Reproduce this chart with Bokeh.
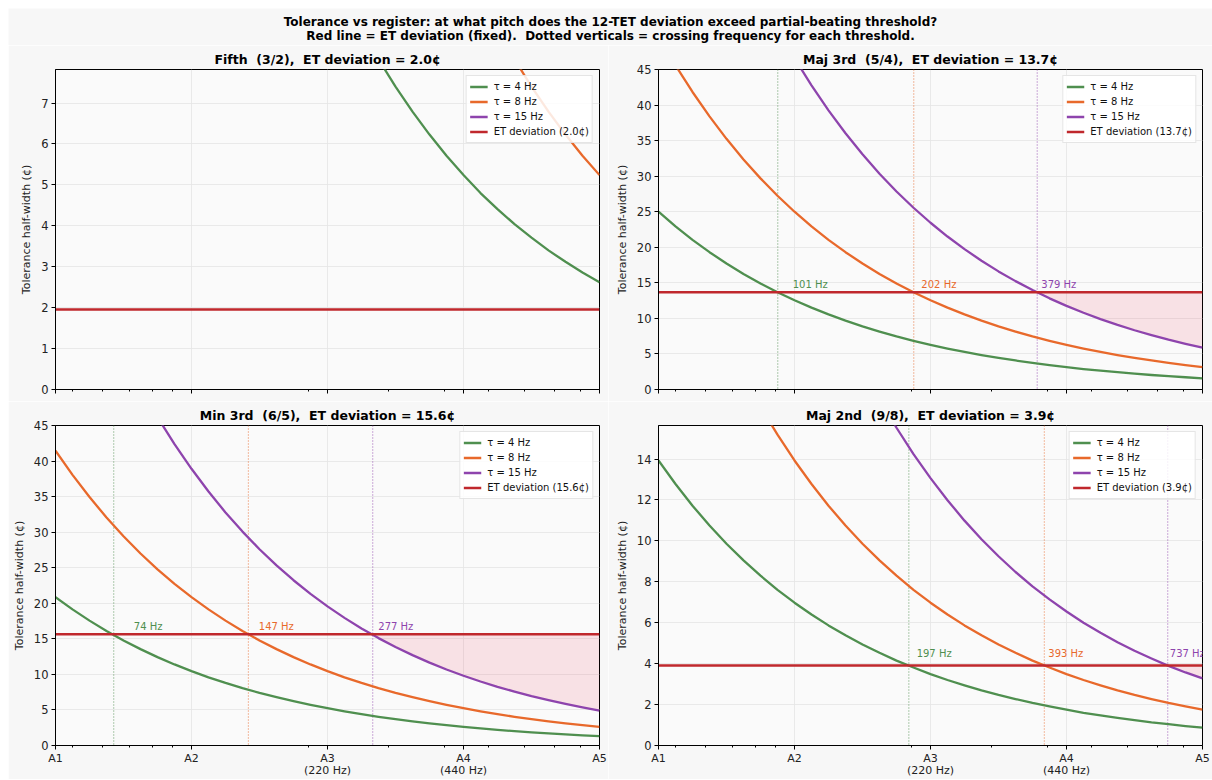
from bokeh.plotting import figure
from bokeh.models import (FixedTicker, SingleIntervalTicker, Legend, LegendItem, Span,
                          ColumnDataSource, Range1d)
from bokeh.layouts import column, row
from bokeh.embed import file_html
from bokeh.resources import INLINE
from bokeh.core.properties import value

FONT = "DejaVu Sans"

# ---------------- data ----------------
freqs = [55.00, 59.98, 65.41, 71.33, 77.78, 84.82, 92.50, 100.87, 110.00, 119.96, 130.81,
         142.65, 155.56, 169.64, 185.00, 201.74, 220.00, 239.91, 261.63, 285.30, 311.13,
         339.29, 369.99, 403.48, 440.00, 479.82, 523.25, 570.61, 622.25, 678.58, 739.99,
         806.96, 880.00]

tau_labels = ["τ = 4 Hz", "τ = 8 Hz", "τ = 15 Hz"]

interval_names = ["Fifth", "Maj 3rd", "Min 3rd", "Maj 2nd"]
interval_ratios = ["3/2", "5/4", "6/5", "9/8"]
et_dev = [1.955, 13.686, 15.641, 3.910]
y_tick_step = [1, 5, 5, 2]

fifth_t4 = [41.47, 38.06, 34.94, 32.06, 29.43, 27.00, 24.78, 22.73, 20.86, 19.14, 17.56, 16.11,
            14.78, 13.55, 12.43, 11.40, 10.46, 9.59, 8.80, 8.07, 7.40, 6.79, 6.23, 5.71, 5.24,
            4.80, 4.41, 4.04, 3.71, 3.40, 3.12, 2.86, 2.62]
fifth_t8 = [81.97, 75.31, 69.18, 63.55, 58.36, 53.59, 49.20, 45.17, 41.47, 38.06, 34.94, 32.06,
            29.43, 27.00, 24.78, 22.73, 20.86, 19.14, 17.56, 16.11, 14.78, 13.55, 12.43, 11.40,
            10.46, 9.59, 8.80, 8.07, 7.40, 6.79, 6.23, 5.71, 5.24]
fifth_t15 = [150.64, 138.63, 127.53, 117.30, 107.86, 99.16, 91.14, 83.76, 76.96, 70.70, 64.94,
             59.64, 54.77, 50.29, 46.17, 42.38, 38.91, 35.71, 32.77, 30.08, 27.60, 25.33, 23.24,
             21.32, 19.56, 17.95, 16.46, 15.10, 13.86, 12.71, 11.66, 10.69, 9.81]

maj3_t4 = [25.00, 22.94, 21.05, 19.31, 17.72, 16.25, 14.91, 13.68, 12.55, 11.51, 10.56, 9.68,
           8.88, 8.15, 7.47, 6.85, 6.28, 5.76, 5.29, 4.85, 4.45, 4.08, 3.74, 3.43, 3.14, 2.88,
           2.64, 2.43, 2.22, 2.04, 1.87, 1.72, 1.57]
maj3_t8 = [49.64, 45.58, 41.84, 38.41, 35.25, 32.35, 29.69, 27.25, 25.00, 22.94, 21.05, 19.31,
           17.72, 16.25, 14.91, 13.68, 12.55, 11.51, 10.56, 9.68, 8.88, 8.15, 7.47, 6.85, 6.28,
           5.76, 5.29, 4.85, 4.45, 4.08, 3.74, 3.43, 3.14]
maj3_t15 = [91.95, 84.50, 77.64, 71.33, 65.52, 60.17, 55.26, 50.74, 46.58, 42.77, 39.26, 36.03,
            33.07, 30.35, 27.85, 25.56, 23.45, 21.51, 19.74, 18.11, 16.61, 15.24, 13.98, 12.82,
            11.76, 10.79, 9.90, 9.08, 8.33, 7.64, 7.00, 6.42, 5.89]

min3_t4 = [20.86, 19.14, 17.56, 16.11, 14.78, 13.55, 12.43, 11.40, 10.46, 9.59, 8.80, 8.07,
           7.40, 6.79, 6.23, 5.71, 5.24, 4.80, 4.41, 4.04, 3.71, 3.40, 3.12, 2.86, 2.62, 2.40,
           2.20, 2.02, 1.85, 1.70, 1.56, 1.43, 1.31]
min3_t8 = [41.47, 38.06, 34.94, 32.06, 29.43, 27.00, 24.78, 22.73, 20.86, 19.14, 17.56, 16.11,
           14.78, 13.55, 12.43, 11.40, 10.46, 9.59, 8.80, 8.07, 7.40, 6.79, 6.23, 5.71, 5.24,
           4.80, 4.41, 4.04, 3.71, 3.40, 3.12, 2.86, 2.62]
min3_t15 = [76.96, 70.70, 64.94, 59.64, 54.77, 50.29, 46.17, 42.38, 38.91, 35.71, 32.77, 30.08,
            27.60, 25.33, 23.24, 21.32, 19.56, 17.95, 16.46, 15.10, 13.86, 12.71, 11.66, 10.69,
            9.81, 9.00, 8.25, 7.57, 6.94, 6.37, 5.84, 5.36, 4.91]

maj2_t4 = [13.93, 12.78, 11.72, 10.75, 9.86, 9.05, 8.30, 7.61, 6.98, 6.40, 5.87, 5.39, 4.94,
           4.53, 4.15, 3.81, 3.49, 3.20, 2.94, 2.69, 2.47, 2.27, 2.08, 1.91, 1.75, 1.60, 1.47,
           1.35, 1.24, 1.13, 1.04, 0.95, 0.87]
maj2_t8 = [27.76, 25.47, 23.37, 21.44, 19.67, 18.05, 16.56, 15.19, 13.93, 12.78, 11.72, 10.75,
           9.86, 9.05, 8.30, 7.61, 6.98, 6.40, 5.87, 5.39, 4.94, 4.53, 4.15, 3.81, 3.49, 3.20,
           2.94, 2.69, 2.47, 2.27, 2.08, 1.91, 1.75]
maj2_t15 = [51.68, 47.45, 43.56, 39.99, 36.70, 33.69, 30.92, 28.37, 26.03, 23.89, 21.92, 20.11,
            18.45, 16.93, 15.53, 14.24, 13.07, 11.99, 10.99, 10.08, 9.25, 8.48, 7.78, 7.14, 6.55,
            6.00, 5.51, 5.05, 4.63, 4.25, 3.89, 3.57, 3.28]

# crossing frequencies (Hz) for tau = 4, 8, 15
fifth_cross = []
maj3_cross = [101, 202, 379]
min3_cross = [74, 147, 277]
maj2_cross = [197, 393, 737]

x_tick_freqs = [55, 110, 220, 440, 880]
x_tick_labels = ["A1", "A2", "A3\n(220 Hz)", "A4\n(440 Hz)", "A5"]
x_minor_freqs = [60, 70, 80, 90, 100, 200, 300, 400, 500, 600, 700, 800]

title_lines = [
    "Tolerance vs register: at what pitch does the 12-TET deviation exceed partial-beating threshold?",
    "Red line = ET deviation (fixed). \u00a0Dotted verticals = crossing frequency for each threshold.",
]

# ---------------- style ----------------
COLORS = ["#4f8f4f", "#e8692b", "#8e44ad"]
RED = "#c0282d"
FILL = "#f03050"
OUTER_BG = "#f7f7f7"
INNER_BG = "#fafafa"


def panel(idx, curves, cross, width, height, mb, show_xlabels):
    et = et_dev[idx]
    ylim = min(45.0, 4 * et)
    p = figure(width=width, height=height, x_axis_type="log",
               x_range=Range1d(55, 880), y_range=Range1d(0, ylim),
               output_backend="svg", toolbar_location=None,
               min_border_left=mb[0], min_border_right=mb[1],
               min_border_top=mb[2], min_border_bottom=mb[3])
    p.border_fill_color = OUTER_BG
    p.background_fill_color = INNER_BG
    p.outline_line_color = "black"
    p.outline_line_width = 1

    p.title.text = (f"{interval_names[idx]} \u00a0({interval_ratios[idx]}), "
                    f"\u00a0ET deviation = {et:.1f}¢")
    p.title.text_font = FONT
    p.title.text_font_size = "12.5px"
    p.title.text_font_style = "bold"
    p.title.align = "center"
    p.title.standoff = 5.5
    p.title.text_color = "black"

    # axes
    p.xaxis.ticker = FixedTicker(ticks=x_tick_freqs, minor_ticks=x_minor_freqs)
    p.xgrid.ticker = FixedTicker(ticks=x_tick_freqs)
    if show_xlabels:
        p.xaxis.major_label_overrides = {f: l for f, l in zip(x_tick_freqs, x_tick_labels)}
    else:
        p.xaxis.major_label_overrides = {f: "" for f in x_tick_freqs}
    p.yaxis.ticker = SingleIntervalTicker(interval=y_tick_step[idx], num_minor_ticks=0)
    for ax in (p.xaxis[0], p.yaxis[0]):
        ax.axis_line_color = "black"
        ax.major_tick_line_color = "black"
        ax.minor_tick_line_color = "black"
        ax.major_tick_out = 4
        ax.major_tick_in = 0
        ax.minor_tick_out = 2
        ax.minor_tick_in = 0
        ax.major_label_text_font = FONT
        ax.major_label_text_font_size = "11.5px"
        ax.major_label_text_color = "#222222"
        ax.major_label_standoff = 3
    p.xaxis.major_label_text_font_size = "11px"
    p.xaxis.major_label_text_line_height = 0.95
    p.xaxis.major_label_standoff = 2
    p.yaxis.minor_tick_line_color = None
    if not show_xlabels:
        p.xaxis.major_label_standoff = 0
    p.yaxis.axis_label = "Tolerance half-width (¢)"
    p.yaxis.axis_label_text_font = FONT
    p.yaxis.axis_label_text_font_size = "11px"
    p.yaxis.axis_label_text_font_style = "normal"
    p.yaxis.axis_label_text_color = "#222222"
    p.yaxis.axis_label_standoff = 5
    p.grid.grid_line_color = "#e4e4e4"
    p.grid.grid_line_width = 0.8

    # shaded region where tau=15 tolerance is below the ET deviation
    if len(cross) == 3:
        fc = cross[2]
        fx = [fc] + [f for f in freqs if f > fc]
        fy = [et] + [v for f, v in zip(freqs, curves[2]) if f > fc]
        p.varea(x=fx, y1=fy, y2=[et] * len(fx), fill_color=FILL, fill_alpha=0.12)

    # crossing verticals
    for fc, col in zip(cross, COLORS):
        p.add_layout(Span(location=fc, dimension="height", line_color=col,
                          line_dash="1 2", line_width=1.1, line_alpha=0.8,
                          level="underlay"))

    items = []
    for vals, col, lab in zip(curves, COLORS, tau_labels):
        r = p.line(freqs, vals, line_color=col, line_width=2.3, line_join="round")
        items.append(LegendItem(label=lab, renderers=[r]))
    r = p.line(freqs, [et] * len(freqs), line_color=RED, line_width=2.6)
    items.append(LegendItem(label=f"ET deviation ({et:.1f}¢)", renderers=[r]))

    for fc, col in zip(cross, COLORS):
        src = ColumnDataSource(dict(x=[fc + 8], y=[et + 0.3], t=[f"{fc} Hz"]))
        p.text(x="x", y="y", text="t", source=src, text_color=col,
               text_font=value(FONT), text_font_size="10px",
               text_align="left", text_baseline="bottom")

    leg = Legend(items=items, location="top_right")
    leg.label_text_font = FONT
    leg.label_text_font_size = "10px"
    leg.label_text_color = "#111111"
    leg.glyph_width = 18
    leg.glyph_height = 15
    leg.label_height = 15
    leg.label_standoff = 6
    leg.spacing = 0
    leg.padding = 3
    leg.margin = 6
    leg.border_line_color = "#cccccc"
    leg.border_line_width = 1
    leg.background_fill_color = "white"
    leg.background_fill_alpha = 0.85
    p.add_layout(leg)
    return p


p1 = panel(0, [fifth_t4, fifth_t8, fifth_t15], fifth_cross, 600, 356, (47, 9, 24, 12), False)
p2 = panel(1, [maj3_t4, maj3_t8, maj3_t15], maj3_cross, 604, 356, (50, 10, 24, 12), False)
p3 = panel(2, [min3_t4, min3_t8, min3_t15], min3_cross, 600, 378, (47, 9, 24, 34), True)
p4 = panel(3, [maj2_t4, maj2_t8, maj2_t15], maj2_cross, 604, 378, (50, 10, 24, 34), True)

# super title
pt = figure(width=1204, height=37, x_range=Range1d(0, 1), y_range=Range1d(0, 37),
            output_backend="svg", toolbar_location=None, min_border=0)
pt.axis.visible = False
pt.grid.visible = False
pt.outline_line_color = None
pt.border_fill_color = OUTER_BG
pt.background_fill_color = OUTER_BG
tsrc = ColumnDataSource(dict(x=[0.5, 0.5], y=[24, 10], t=title_lines))
pt.text(x="x", y="y", text="t", source=tsrc, text_align="center",
        text_baseline="middle", text_font=value(FONT), text_font_size="12px",
        text_font_style="bold", text_color="black")

layout = column(pt, row(p1, p2), row(p3, p4), margin=(8, 0, 0, 8))
open("out.html", "w").write(file_html(layout, INLINE))
